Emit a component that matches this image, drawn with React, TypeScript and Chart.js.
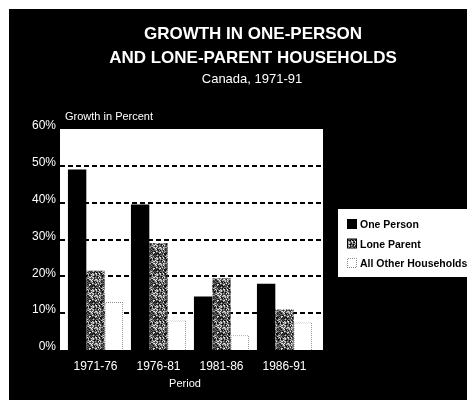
import { useEffect, useRef } from 'react';
import { Chart, registerables } from 'chart.js';

Chart.register(...registerables);

const periods = ['1971-76', '1976-81', '1981-86', '1986-91'];
const onePerson = [49, 39.5, 14.5, 18];
const loneParent = [21.5, 29, 19.5, 11];
const allOther = [13, 8, 4, 7.5];
const seriesNames = ['One Person', 'Lone Parent', 'All Other Households'];
const yTicks = [0, 10, 20, 30, 40, 50, 60];
const titleLines = ['GROWTH IN ONE-PERSON', 'AND LONE-PARENT HOUSEHOLDS'];
const subtitle = 'Canada, 1971-91';
const yAxisTitle = 'Growth in Percent';
const xAxisTitle = 'Period';

const FONT = "'Liberation Sans', Arial, Helvetica, sans-serif";
const W = 466;
const H = 391;

// Grainy halftone grey texture for the "Lone Parent" bars.
function stipplePattern(ctx: CanvasRenderingContext2D): CanvasPattern {
  const n = 16;
  const c = document.createElement('canvas');
  c.width = n;
  c.height = n;
  const g = c.getContext('2d')!;
  const levels = [0, 30, 60, 90, 120, 160, 200, 235, 45, 75, 110];
  for (let y = 0; y < n; y++) {
    for (let x = 0; x < n; x++) {
      let h = (x * 374761393 + y * 668265263) >>> 0;
      h = ((h ^ (h >>> 13)) * 1274126177) >>> 0;
      const v = levels[(h >>> 8) % levels.length];
      g.fillStyle = `rgb(${v},${v},${v})`;
      g.fillRect(x, y, 1, 1);
    }
  }
  return ctx.createPattern(c, 'repeat')!;
}

// Checker used as a dotted outline for the white bars.
function dotPattern(ctx: CanvasRenderingContext2D): CanvasPattern {
  const c = document.createElement('canvas');
  c.width = 2;
  c.height = 2;
  const g = c.getContext('2d')!;
  g.fillStyle = '#ffffff';
  g.fillRect(0, 0, 2, 2);
  g.fillStyle = '#8a8a8a';
  g.fillRect(0, 0, 1, 1);
  g.fillRect(1, 1, 1, 1);
  return ctx.createPattern(c, 'repeat')!;
}

export default function App() {
  const ref = useRef<HTMLCanvasElement>(null);

  useEffect(() => {
    document.documentElement.style.overflow = 'hidden';
    const canvas = ref.current!;
    const ctx = canvas.getContext('2d')!;
    const stipple = stipplePattern(ctx);
    const dots = dotPattern(ctx);

    const frame = {
      id: 'frame',
      beforeDraw(chart: any) {
        const c = chart.ctx;
        const a = chart.chartArea;
        const y = chart.scales.y;
        c.save();
        c.fillStyle = '#000';
        c.fillRect(0, 0, chart.width, chart.height);
        // white plotting panel, a little wider than the category band
        const left = a.left - 4;
        const right = a.right + 7;
        c.fillStyle = '#fff';
        c.fillRect(left, a.top, right - left, a.bottom - a.top);
        // dashed reference lines
        c.strokeStyle = '#000';
        c.lineWidth = 2;
        c.setLineDash([5, 3]);
        for (const v of yTicks) {
          if (v <= y.min || v >= y.max) continue;
          const py = Math.round(y.getPixelForValue(v));
          c.beginPath();
          c.moveTo(left, py);
          c.lineTo(right, py);
          c.stroke();
        }
        c.restore();
      },
      afterDraw(chart: any) {
        const c = chart.ctx;
        const a = chart.chartArea;
        c.save();
        c.fillStyle = '#fff';
        c.textAlign = 'center';
        c.textBaseline = 'alphabetic';
        c.font = `bold 17px ${FONT}`;
        c.fillText(titleLines[0], 244, 30);
        c.fillText(titleLines[1], 244, 54);
        c.font = `13px ${FONT}`;
        c.fillText(subtitle, 243, 74);

        c.textAlign = 'left';
        c.font = `11px ${FONT}`;
        c.fillText(yAxisTitle, a.left + 1, a.top - 9);

        c.textAlign = 'center';
        c.fillText(xAxisTitle, (a.left + a.right) / 2 - 5, 378);

        // legend box
        const bx = 329, by = 200, bw = chart.width - 329, bh = 68;
        c.fillStyle = '#fff';
        c.fillRect(bx, by, bw, bh);
        c.font = `bold 10.5px ${FONT}`;
        c.textAlign = 'left';
        chart.data.datasets.forEach((ds: any, i: number) => {
          const sy = 210 + i * 19.5;
          const sx = 338;
          if (i === 2) {
            c.fillStyle = dots;
            c.fillRect(sx, sy, 10, 10);
            c.fillStyle = '#fff';
            c.fillRect(sx + 1, sy + 1, 8, 8);
          } else {
            c.fillStyle = '#000';
            c.fillRect(sx, sy, 10, 10);
            c.fillStyle = ds.backgroundColor;
            c.fillRect(sx + 1, sy + 1, 8, 8);
          }
          c.fillStyle = '#000';
          c.fillText(ds.label, 351, sy + 9);
        });
        c.restore();
      },
    };

    const chart = new Chart(canvas, {
      type: 'bar',
      data: {
        labels: periods,
        datasets: [
          { label: seriesNames[0], data: onePerson, backgroundColor: '#000', borderWidth: 0 },
          { label: seriesNames[1], data: loneParent, backgroundColor: stipple as any, borderWidth: 0 },
          {
            label: seriesNames[2],
            data: allOther,
            backgroundColor: '#fff',
            borderColor: dots as any,
            borderWidth: 1,
            borderSkipped: 'bottom',
          },
        ],
      },
      options: {
        responsive: false,
        animation: false,
        devicePixelRatio: 1,
        layout: { padding: { top: 120, right: 159, bottom: 0, left: 0 } },
        datasets: { bar: { categoryPercentage: 0.875, barPercentage: 1 } },
        plugins: {
          legend: { display: false },
          title: { display: false },
          tooltip: { enabled: false },
        },
        scales: {
          x: {
            grid: { display: false, drawTicks: false },
            border: { display: false },
            ticks: { color: '#fff', font: { family: FONT, size: 12 }, padding: 9 },
            afterFit: (s: any) => { s.height = 50; },
          },
          y: {
            min: 0,
            max: 60,
            grid: { display: false, drawTicks: false },
            border: { display: false },
            afterBuildTicks: (s: any) => { s.ticks = yTicks.map((v) => ({ value: v })); },
            ticks: {
              color: '#fff',
              font: { family: FONT, size: 12 },
              padding: 8,
              labelOffset: -3,
              callback: (v: any) => `${v}%`,
            },
            afterFit: (s: any) => { s.width = 55; },
          },
        },
      },
      plugins: [frame],
    });
    return () => chart.destroy();
  }, []);

  return (
    <div style={{ padding: '1px 0 0 1px' }}>
      <canvas ref={ref} width={W} height={H} style={{ display: 'block' }} />
    </div>
  );
}
